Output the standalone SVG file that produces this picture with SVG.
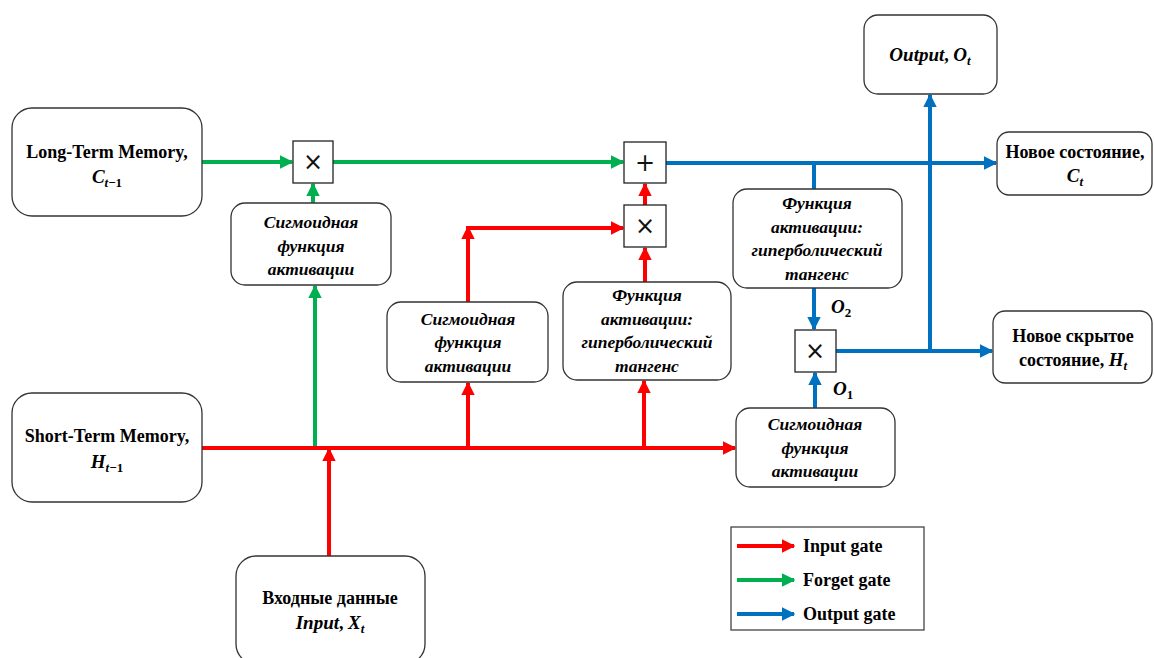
<svg xmlns="http://www.w3.org/2000/svg" width="1154" height="658" viewBox="0 0 1154 658">
<defs>
<style>
.box{fill:#fff;stroke:#333;stroke-width:1.3}
.op{fill:#fff;stroke:#222;stroke-width:1.3}
text{font-family:'Liberation Serif','DejaVu Serif',serif}
.t{font-weight:bold;font-size:18px;fill:#000;text-anchor:middle}
.it{font-weight:bold;font-style:italic;font-size:17.5px;fill:#000;text-anchor:middle}
.m{font-style:italic;font-weight:bold;font-size:19px}
.sub{font-size:13px}
.sym{font-family:'DejaVu Sans','Liberation Sans',sans-serif;font-size:24px;fill:#111;text-anchor:middle}
.r{stroke:#FF0000;stroke-width:4;fill:none}
.g{stroke:#00B050;stroke-width:4;fill:none}
.b{stroke:#0070C0;stroke-width:4;fill:none}
</style>
<marker id="ar" viewBox="0 0 10 10" refX="9" refY="5" markerWidth="3.4" markerHeight="3.4" orient="auto" markerUnits="strokeWidth"><path d="M0,0 L10,5 L0,10 z" fill="#FF0000"/></marker>
<marker id="ag" viewBox="0 0 10 10" refX="9" refY="5" markerWidth="3.4" markerHeight="3.4" orient="auto" markerUnits="strokeWidth"><path d="M0,0 L10,5 L0,10 z" fill="#00B050"/></marker>
<marker id="ab" viewBox="0 0 10 10" refX="9" refY="5" markerWidth="3.4" markerHeight="3.4" orient="auto" markerUnits="strokeWidth"><path d="M0,0 L10,5 L0,10 z" fill="#0070C0"/></marker>
</defs>
<rect width="1154" height="658" fill="#fff"/>

<g id="connectors">
<line class="g" x1="202" y1="162" x2="292" y2="162" marker-end="url(#ag)"/>
<line class="g" x1="333" y1="162" x2="623" y2="162" marker-end="url(#ag)"/>
<line class="g" x1="313" y1="203" x2="313" y2="184" marker-end="url(#ag)"/>
<line class="g" x1="315" y1="448" x2="315" y2="286" marker-end="url(#ag)"/>
<line class="r" x1="202" y1="448" x2="735" y2="448" marker-end="url(#ar)"/>
<line class="r" x1="329" y1="556" x2="329" y2="449" marker-end="url(#ar)"/>
<line class="r" x1="468" y1="448" x2="468" y2="383" marker-end="url(#ar)"/>
<polyline class="r" points="468,302 468,228 623,228" marker-end="url(#ar)"/>
<line class="r" x1="468" y1="302" x2="468" y2="227" marker-end="url(#ar)"/>
<line class="r" x1="644" y1="448" x2="644" y2="381" marker-end="url(#ar)"/>
<line class="r" x1="645" y1="282" x2="645" y2="248" marker-end="url(#ar)"/>
<line class="r" x1="645" y1="205" x2="645" y2="184" marker-end="url(#ar)"/>
<line class="b" x1="666" y1="163" x2="996" y2="163" marker-end="url(#ab)"/>
<line class="b" x1="814" y1="163" x2="814" y2="189"/>
<line class="b" x1="814" y1="288" x2="814" y2="329" marker-end="url(#ab)"/>
<line class="b" x1="815" y1="408" x2="815" y2="373" marker-end="url(#ab)"/>
<line class="b" x1="836" y1="351" x2="992" y2="351" marker-end="url(#ab)"/>
<line class="b" x1="930" y1="351" x2="930" y2="95" marker-end="url(#ab)"/>
</g>

<g id="long-term">
<rect class="box" x="12" y="108" width="190" height="108" rx="20"/>
<text class="t" x="107" y="158">Long-Term Memory,</text>
<text class="t" x="107" y="183"><tspan class="m">C</tspan><tspan class="m sub" dy="4">t</tspan><tspan class="sub">−1</tspan></text>
</g>

<g id="short-term">
<rect class="box" x="12" y="393" width="190" height="109" rx="20"/>
<text class="t" x="107" y="442">Short-Term Memory,</text>
<text class="t" x="107" y="468"><tspan class="m">H</tspan><tspan class="m sub" dy="4">t</tspan><tspan class="sub">−1</tspan></text>
</g>

<g id="input">
<rect class="box" x="236" y="556" width="189" height="108" rx="20"/>
<text class="t" x="330" y="604">Входные данные</text>
<text class="t" x="330" y="629"><tspan class="m">Input</tspan>, <tspan class="m">X</tspan><tspan class="m sub" dy="4">t</tspan></text>
</g>

<g id="mul1">
<rect class="op" x="293" y="141" width="40" height="42"/>
<text class="sym" x="313" y="170">×</text>
</g>

<g id="sigmoid1">
<rect class="box" x="231" y="203" width="160" height="82" rx="14"/>
<text class="it" x="311" y="228">Сигмоидная</text>
<text class="it" x="311" y="252">функция</text>
<text class="it" x="311" y="275">активации</text>
</g>

<g id="plus">
<rect class="op" x="624" y="142" width="42" height="41"/>
<text class="sym" x="645" y="171">+</text>
</g>

<g id="mul2">
<rect class="op" x="624" y="205" width="42" height="42"/>
<text class="sym" x="645" y="234">×</text>
</g>

<g id="sigmoid2">
<rect class="box" x="387" y="302" width="161" height="80" rx="14"/>
<text class="it" x="468" y="325">Сигмоидная</text>
<text class="it" x="468" y="348">функция</text>
<text class="it" x="468" y="372">активации</text>
</g>

<g id="tanh1">
<rect class="box" x="563" y="282" width="168" height="98" rx="14"/>
<text class="it" x="647" y="301">Функция</text>
<text class="it" x="647" y="325">активации:</text>
<text class="it" x="647" y="348">гиперболический</text>
<text class="it" x="647" y="372">тангенс</text>
</g>

<g id="tanh2">
<rect class="box" x="733" y="189" width="169" height="99" rx="14"/>
<text class="it" x="817" y="209">Функция</text>
<text class="it" x="817" y="233">активации:</text>
<text class="it" x="817" y="256">гиперболический</text>
<text class="it" x="817" y="280">тангенс</text>
</g>

<g id="mul3">
<rect class="op" x="795" y="330" width="41" height="42"/>
<text class="sym" x="815" y="359">×</text>
</g>

<g id="labels">
<text class="t" x="831" y="313" style="text-anchor:start"><tspan class="m">O</tspan><tspan class="sub" dy="4">2</tspan></text>
<text class="t" x="833" y="395" style="text-anchor:start"><tspan class="m">O</tspan><tspan class="sub" dy="4">1</tspan></text>
</g>

<g id="sigmoid3">
<rect class="box" x="736" y="408" width="159" height="79" rx="14"/>
<text class="it" x="815" y="430">Сигмоидная</text>
<text class="it" x="815" y="454">функция</text>
<text class="it" x="815" y="477">активации</text>
</g>

<g id="output">
<rect class="box" x="864" y="15" width="133" height="79" rx="14"/>
<text class="t" x="930" y="61"><tspan class="m">Output</tspan>, <tspan class="m">O</tspan><tspan class="m sub" dy="4">t</tspan></text>
</g>

<g id="new-state">
<rect class="box" x="997" y="132" width="155" height="63" rx="12"/>
<text class="t" x="1075" y="158">Новое состояние,</text>
<text class="t" x="1075" y="182"><tspan class="m">C</tspan><tspan class="m sub" dy="4">t</tspan></text>
</g>

<g id="new-hidden">
<rect class="box" x="993" y="311" width="159" height="72" rx="12"/>
<text class="t" x="1073" y="342">Новое скрытое</text>
<text class="t" x="1073" y="366">состояние, <tspan class="m">H</tspan><tspan class="m sub" dy="4">t</tspan></text>
</g>

<g id="legend">
<rect x="731" y="527" width="193" height="103" fill="#fff" stroke="#444" stroke-width="1.3"/>
<line class="r" x1="737" y1="546" x2="794" y2="546" marker-end="url(#ar)"/>
<line class="g" x1="737" y1="580" x2="794" y2="580" marker-end="url(#ag)"/>
<line class="b" x1="737" y1="614" x2="794" y2="614" marker-end="url(#ab)"/>
<text class="t" x="803" y="552" style="text-anchor:start">Input gate</text>
<text class="t" x="803" y="586" style="text-anchor:start">Forget gate</text>
<text class="t" x="803" y="620" style="text-anchor:start">Output gate</text>
</g>
</svg>
